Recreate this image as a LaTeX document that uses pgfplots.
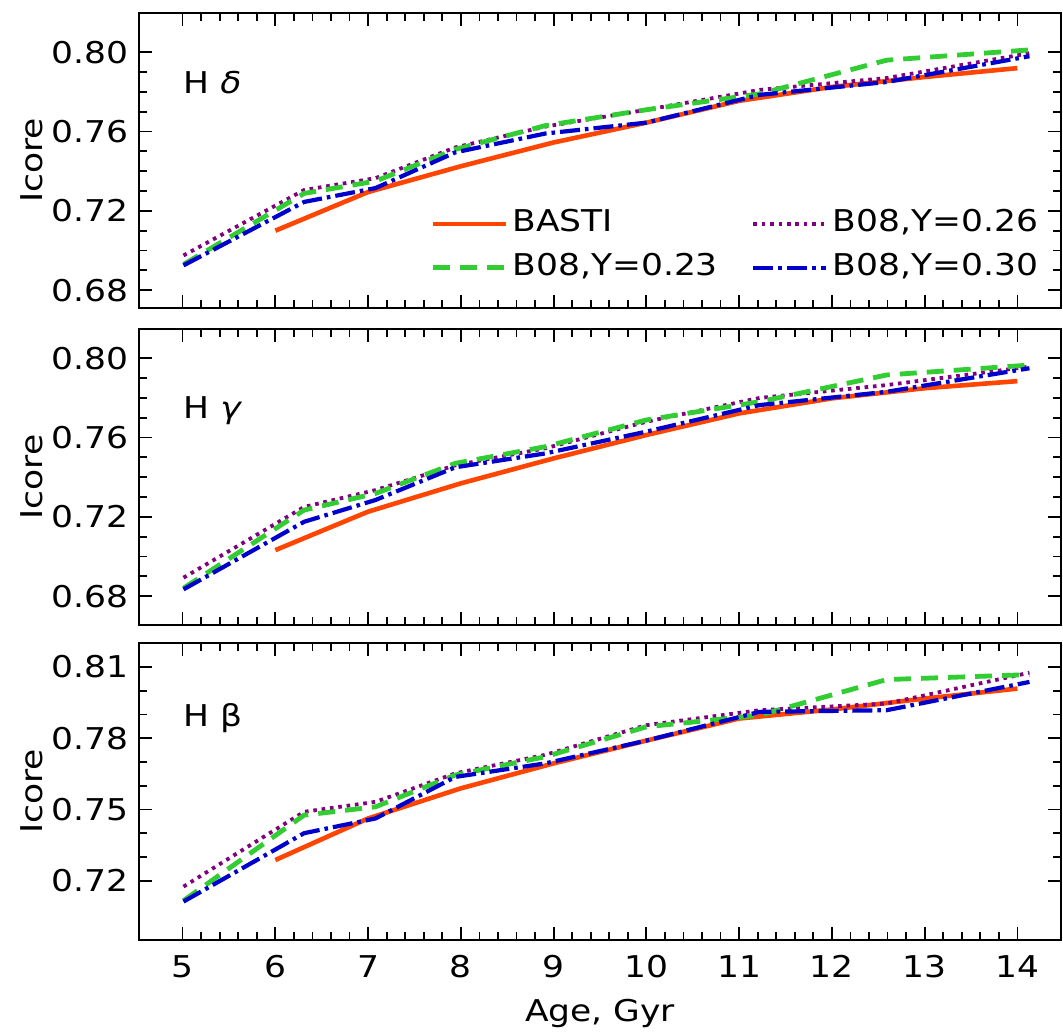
\documentclass[border=0pt]{standalone}
\usepackage{fontspec}
\setmainfont{DejaVu Sans}[FakeStretch=1.15]
\usepackage{pgfplots}
\usepackage{pgfplotstable}
\pgfplotsset{compat=1.18}

\definecolor{cBasti}{RGB}{255,69,0}
\definecolor{cG}{RGB}{50,205,50}
\definecolor{cP}{RGB}{128,0,128}
\definecolor{cB}{RGB}{0,0,205}

% ---------- Panel 1: H delta ----------
\pgfplotstableread{
x y
6 0.7100
7 0.7295
8 0.7425
9 0.7545
10 0.7645
11 0.7755
12 0.7825
13 0.7875
14 0.7920
}\dAbasti
\pgfplotstableread{
x y
5.01 0.6930
5.62 0.7098
6.31 0.7288
7.08 0.7350
7.94 0.7510
8.91 0.7630
10.00 0.7710
11.22 0.7790
12.59 0.7960
14.13 0.8012
}\dAg
\pgfplotstableread{
x y
5.01 0.6975
5.62 0.7130
6.31 0.7305
7.08 0.7365
7.94 0.7520
8.91 0.7625
10.00 0.7710
11.22 0.7810
12.59 0.7870
14.13 0.7995
}\dAp
\pgfplotstableread{
x y
5.01 0.6925
5.62 0.7075
6.31 0.7245
7.08 0.7315
7.94 0.7495
8.91 0.7590
10.00 0.7645
11.22 0.7785
12.59 0.7850
14.13 0.7980
}\dAb

% ---------- Panel 2: H gamma ----------
\pgfplotstableread{
x y
6 0.7032
7 0.7226
8 0.7369
9 0.7495
10 0.7613
11 0.7722
12 0.7798
13 0.7849
14 0.7885
}\dBbasti
\pgfplotstableread{
x y
5.01 0.6840
5.62 0.7025
6.31 0.7234
7.08 0.7318
7.94 0.7470
8.91 0.7554
10.00 0.7689
11.22 0.7781
12.59 0.7916
14.13 0.7966
}\dBg
\pgfplotstableread{
x y
5.01 0.6893
5.62 0.7060
6.31 0.7250
7.08 0.7335
7.94 0.7460
8.91 0.7546
10.00 0.7680
11.22 0.7800
12.59 0.7865
14.13 0.7958
}\dBp
\pgfplotstableread{
x y
5.01 0.6834
5.62 0.6994
6.31 0.7175
7.08 0.7285
7.94 0.7450
8.91 0.7520
10.00 0.7630
11.22 0.7764
12.59 0.7831
14.13 0.7950
}\dBb

% ---------- Panel 3: H beta ----------
\pgfplotstableread{
x y
6 0.7287
7 0.7462
8 0.7589
9 0.7694
10 0.7790
11 0.7883
12 0.7921
13 0.7967
14 0.8009
}\dCbasti
\pgfplotstableread{
x y
5.01 0.7116
5.62 0.7285
6.31 0.7476
7.08 0.7511
7.94 0.7645
8.91 0.7722
10.00 0.7848
11.22 0.7897
12.59 0.8047
14.13 0.8068
}\dCg
\pgfplotstableread{
x y
5.01 0.7175
5.62 0.7323
6.31 0.7490
7.08 0.7532
7.94 0.7652
8.91 0.7730
10.00 0.7855
11.22 0.7918
12.59 0.7946
14.13 0.8076
}\dCp
\pgfplotstableread{
x y
5.01 0.7112
5.62 0.7247
6.31 0.7400
7.08 0.7462
7.94 0.7637
8.91 0.7694
10.00 0.7790
11.22 0.7911
12.59 0.7918
14.13 0.8037
}\dCb

\pgfplotsset{
  panel/.style={
    scale only axis, width=461pt,
    xmin=4.53, xmax=14.47,
    xtick={5,6,7,8,9,10,11,12,13,14}, minor x tick num=4,
    tick align=inside, major tick length=6.5pt, minor tick length=4pt,
    axis line style={line width=1pt},
    every tick/.style={black, line width=0.9pt},
    yticklabel style={/pgf/number format/.cd, fixed, fixed zerofill, precision=2, assume math mode=true},
    xticklabel style={/pgf/number format/assume math mode=true, yshift=-2.5pt},
    scaled y ticks=false,
    ylabel={Icore},
    every axis y label/.style={at={(axis description cs:-0.116,0.5)}, rotate=90, anchor=center},
  },
  sBasti/.style={color=cBasti, line width=2.3pt, solid, line join=round},
  sG/.style={color=cG, line width=2.4pt, dash pattern=on 8.5pt off 5pt, line join=round},
  sP/.style={color=cP, line width=1.9pt, dash pattern=on 1.8pt off 2.4pt},
  sB/.style={color=cB, line width=2.1pt, dash pattern=on 10pt off 2.5pt on 1.8pt off 2.5pt, line join=round},
}

\begin{document}
\fontsize{15}{18}\selectfont
\begin{tikzpicture}
\useasboundingbox (-69.5pt,6.5pt) rectangle (462pt,-511pt);

% Panel 1
\begin{axis}[panel, at={(0pt,0pt)}, anchor=north west, height=147.5pt,
  ymin=0.671, ymax=0.8198, ytick={0.68,0.72,0.76,0.80}, minor y tick num=3,
  xticklabels={},
  legend columns=2,
  legend image code/.code={\draw[#1] (0pt,0pt) -- (36.5pt,0pt);},
  legend style={draw=none, fill=none, inner sep=0pt, at={(rel axis cs:0.3156,1)}, yshift=-96pt, anchor=north west,
    nodes={inner sep=2.2pt, text height=11pt, text depth=3pt},
    row sep=3.6pt,
    /tikz/every even column/.append style={column sep=14.5pt}},
  legend cell align=left]
\addplot[sBasti] table {\dAbasti};
\addlegendentry{BASTI}
\addplot[sP] table {\dAp};
\addlegendentry{B08,Y=0.26}
\addplot[sG] table {\dAg};
\addlegendentry{B08,Y=0.23}
\addplot[sB] table {\dAb};
\addlegendentry{B08,Y=0.30}
\node[anchor=base west, inner sep=0pt] at ([yshift=-40pt]rel axis cs:0.0477,1) {H \textit{δ}};
\end{axis}

% Panel 2
\begin{axis}[panel, at={(0pt,-158pt)}, anchor=north west, height=148pt,
  ymin=0.6654, ymax=0.8148, ytick={0.68,0.72,0.76,0.80}, minor y tick num=3,
  xticklabels={}]
\addplot[sBasti] table {\dBbasti};
\addplot[sP] table {\dBp};
\addplot[sG] table {\dBg};
\addplot[sB] table {\dBb};
\node[anchor=base west, inner sep=0pt] at ([yshift=-44.5pt]rel axis cs:0.0477,1) {H \textit{γ}};
\end{axis}

% Panel 3
\begin{axis}[panel, at={(0pt,-315pt)}, anchor=north west, height=148.5pt,
  ymin=0.695, ymax=0.8201, ytick={0.72,0.75,0.78,0.81}, minor y tick num=2,
  xlabel={Age, Gyr},
  every axis x label/.style={at={(axis description cs:0.5,0)}, anchor=center, yshift=-36.5pt}]
\addplot[sBasti] table {\dCbasti};
\addplot[sP] table {\dCp};
\addplot[sG] table {\dCg};
\addplot[sB] table {\dCb};
\node[anchor=base west, inner sep=0pt] at ([yshift=-41.8pt]rel axis cs:0.0477,1) {H β};
\end{axis}
\end{tikzpicture}
\end{document}
